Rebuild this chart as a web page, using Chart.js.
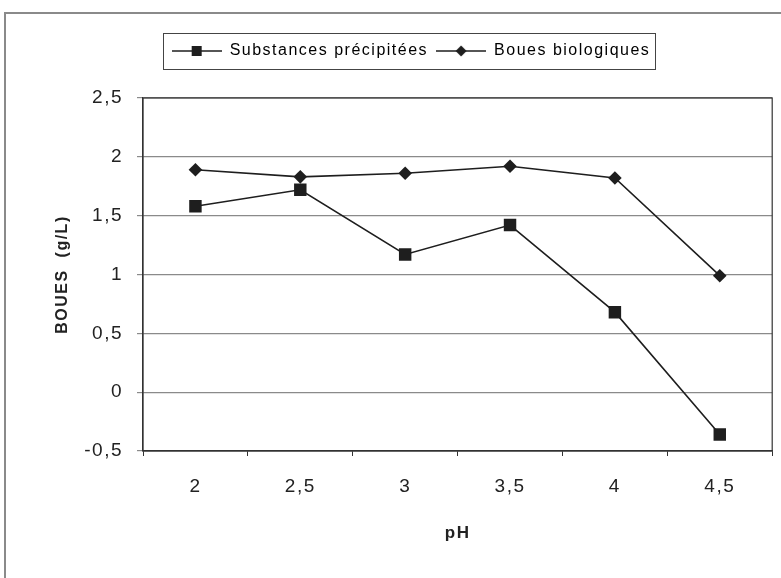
<!DOCTYPE html>
<html>
<head>
<meta charset="utf-8">
<script src="https://cdn.jsdelivr.net/npm/chart.js@4"></script>
<style>
  html, body { margin: 0; padding: 0; background: #fff; }
  #wrap { width: 781px; height: 578px; }
</style>
</head>
<body>
<div id="wrap"><canvas id="myChart" width="781" height="578"></canvas></div>
<script>
// pH des essais
var phLabels = ['2', '2,5', '3', '3,5', '4', '4,5'];

// boues en g/L
var substances = [1.58, 1.72, 1.17, 1.42, 0.68, -0.36];
var bouesBio = [1.89, 1.83, 1.86, 1.92, 1.82, 0.99];

var yTicks = [-0.5, 0, 0.5, 1, 1.5, 2, 2.5];

var ink = '#1e1e1e';
var font = 'Liberation Sans';

// petite icone trait + marqueur pour la legende
function legendIcon(style) {
    var c = document.createElement('canvas');
    c.width = 50; c.height = 14;
    var g = c.getContext('2d');
    g.strokeStyle = ink;
    g.lineWidth = 1.5;
    g.beginPath(); g.moveTo(0, 7); g.lineTo(50, 7); g.stroke();
    g.fillStyle = ink;
    if (style === 'rect') {
        g.fillRect(20, 2, 10, 10);
    } else {
        g.beginPath();
        g.moveTo(25, 1.5); g.lineTo(30.5, 7); g.lineTo(25, 12.5); g.lineTo(19.5, 7);
        g.closePath(); g.fill();
    }
    return c;
}

var cadre = {
    id: 'cadre',
    beforeLayout: function (chart) {
        chart.ctx.letterSpacing = '1.5px';
        var lg = chart.legend;
        if (lg && !lg._hauteurFixe) {
            var fit = lg.fit;
            lg.fit = function () {
                fit.call(this);
                this.height = 63;
            };
            lg._hauteurFixe = true;
        }
    },
    beforeDraw: function (chart) {
        var c = chart.ctx;
        c.letterSpacing = '1.5px';
        c.save();
        c.strokeStyle = '#8a8a8a';
        c.lineWidth = 2;
        c.beginPath();
        c.moveTo(5, 578); c.lineTo(5, 13); c.lineTo(781, 13);
        c.stroke();
        c.restore();
    },
    afterDraw: function (chart) {
        var c = chart.ctx, a = chart.chartArea;
        c.save();
        // bord du graphique
        c.strokeStyle = '#333';
        c.lineWidth = 1.2;
        c.strokeRect(a.left, a.top, a.right - a.left, a.bottom - a.top);
        // boite de la legende
        var boxes = chart.legend.legendHitBoxes;
        if (boxes && boxes.length) {
            var first = boxes[0], last = boxes[boxes.length - 1];
            var cy = first.top + first.height / 2;
            var x0 = first.left - 9, x1 = last.left + last.width + 4;
            c.strokeStyle = '#444';
            c.lineWidth = 1;
            c.strokeRect(Math.round(x0) + 0.5, Math.round(cy - 18) + 0.5, Math.round(x1 - x0), 36);
        }
        c.restore();
    }
};

var ctx = document.getElementById('myChart').getContext('2d');

var myChart = new Chart(ctx, {
    type: 'line',
    data: {
        labels: phLabels,
        datasets: [
            {
                label: 'Substances précipitées',
                data: substances,
                borderColor: ink,
                backgroundColor: ink,
                borderWidth: 1.6,
                pointStyle: 'rect',
                pointRadius: 8.8,
                pointBorderWidth: 0,
                tension: 0
            },
            {
                label: 'Boues biologiques',
                data: bouesBio,
                borderColor: ink,
                backgroundColor: ink,
                borderWidth: 1.6,
                pointStyle: 'rectRot',
                pointRadius: 6.8,
                pointBorderWidth: 0,
                tension: 0
            }
        ]
    },
    plugins: [cadre],
    options: {
        responsive: false,
        animation: false,
        layout: { padding: { left: 48, right: 7, top: 35, bottom: 0 } },
        plugins: {
            tooltip: { enabled: false },
            legend: {
                position: 'top',
                labels: {
                    usePointStyle: true,
                    pointStyleWidth: 50,
                    color: '#222',
                    padding: 8,
                    font: { family: font, size: 16 },
                    generateLabels: function (chart) {
                        return chart.data.datasets.map(function (ds, i) {
                            return {
                                text: ds.label,
                                pointStyle: legendIcon(ds.pointStyle),
                                fillStyle: ink,
                                strokeStyle: ink,
                                lineWidth: 0,
                                datasetIndex: i
                            };
                        });
                    }
                }
            }
        },
        scales: {
            x: {
                offset: true,
                grid: {
                    offset: true,
                    drawOnChartArea: false,
                    drawTicks: true,
                    tickLength: 5,
                    color: '#333'
                },
                border: { color: '#333', width: 1.2 },
                ticks: {
                    color: '#222',
                    padding: 19,
                    font: { family: font, size: 19 }
                },
                title: {
                    display: true,
                    text: 'pH',
                    color: '#222',
                    padding: { top: 4, bottom: 34 },
                    font: { family: font, size: 17, weight: 'bold' }
                },
                afterFit: function (scale) { scale.height = 127; }
            },
            y: {
                min: -0.5,
                max: 2.5,
                afterBuildTicks: function (scale) {
                    scale.ticks = yTicks.map(function (v) { return { value: v }; });
                },
                grid: {
                    color: '#8a8a8a',
                    lineWidth: 1.2,
                    drawTicks: true,
                    tickLength: 6
                },
                border: { color: '#333', width: 1.2 },
                ticks: {
                    color: '#222',
                    padding: 14,
                    font: { family: font, size: 19 },
                    callback: function (v) { return String(v).replace('.', ','); }
                },
                title: {
                    display: true,
                    text: 'BOUES  (g/L)',
                    color: '#222',
                    padding: { top: 5, bottom: 0 },
                    font: { family: font, size: 16, weight: 'bold' }
                },
                afterFit: function (scale) { scale.width = 95; }
            }
        }
    }
});
</script>
</body>
</html>
